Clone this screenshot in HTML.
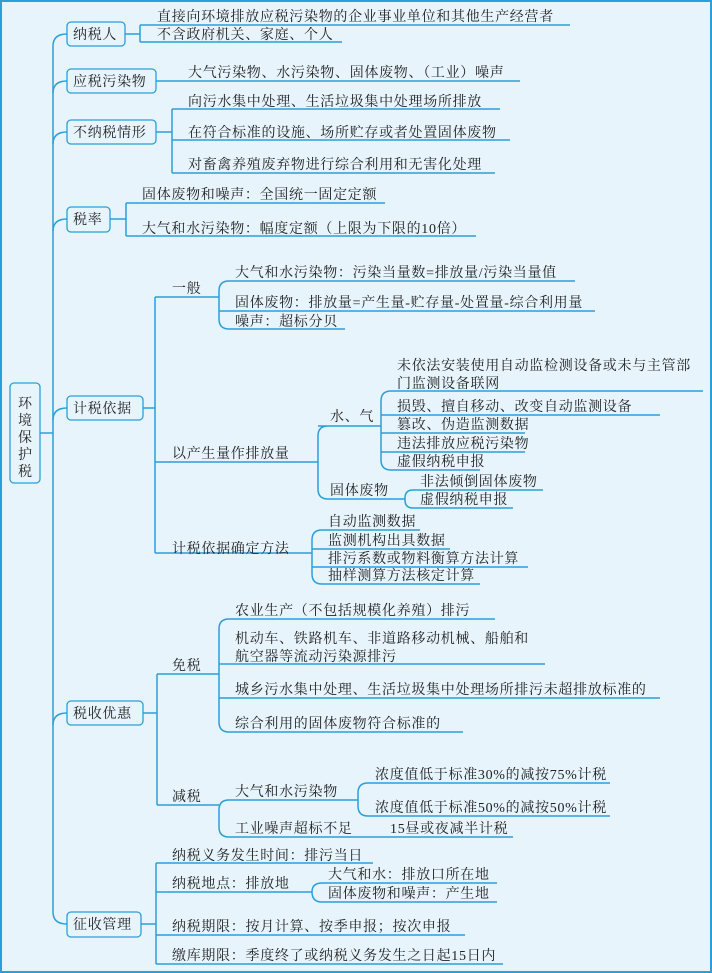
<!DOCTYPE html>
<html><head><meta charset="utf-8"><style>
html,body{margin:0;padding:0;background:#e7f4fc;}
svg{display:block}
text{font-family:"Liberation Serif","Noto Serif CJK SC",serif;font-size:14px;fill:#222;letter-spacing:0.7px}
.l{stroke:#2a9fdc;stroke-width:1.5;fill:none}
.b{stroke:#2a9fdc;stroke-width:1.3;fill:#e7f4fc}
</style></head><body>
<svg width="712" height="973" viewBox="0 0 712 973" xmlns="http://www.w3.org/2000/svg">
<rect x="1" y="1" width="710" height="971" fill="#e7f4fc" stroke="#2a9fdc" stroke-width="2"/>
<g class="l">
<path d="M67,34 Q53,34 53,46 L53,912 Q53,924 67,924"/>
<path d="M53,93 Q53,81 67,81"/><path d="M53,144 Q53,132 67,132"/><path d="M53,231 Q53,219 67,219"/>
<path d="M53,420 Q53,408 67,408"/><path d="M53,725 Q53,713 67,713"/>
<path d="M40,433 L53,433"/>
<path d="M125,34 L140,34 M140,25 L140,42 M140,25 L570,25 M140,42 L342,42"/>
<path d="M156,81 L520,81"/>
<path d="M156,132 L172,132 M172,109 L172,173 M172,109 L500,109 M172,140 L510,140 M172,173 L495,173"/>
<path d="M110,219 L126,219 M126,203 L126,236 M126,203 L385,203 M126,236 L476,236"/>
<path d="M143,408 L155,408 M155,297 L155,553 M155,297 L219,297 M155,462 L318,462 M155,553 L312,553"/>
<path d="M229,281 Q219,281 219,291 L219,319 Q219,329 229,329 L345,329 M229,281 L575,281 M219,311 L595,311"/>
<path d="M328,426 Q318,426 318,436 L318,489 Q318,499 328,499 L405,499 M318,426 L381,426"/>
<path d="M391,391 Q381,391 381,401 L381,460 Q381,470 391,470 L480,470 M391,391 L703,391 M381,415 L660,415 M381,433 L525,433 M381,452 L525,452"/>
<path d="M413,490 Q405,490 405,498 L405,500 Q405,508 413,508 L513,508 M413,490 L543,490"/>
<path d="M322,530 Q312,530 312,540 L312,574 Q312,584 322,584 L480,584 M322,530 L420,530 M312,549 L450,549 M312,567 L528,567"/>
<path d="M143,713 L157,713 M157,674 L157,805 M157,674 L219,674 M157,805 L219,805"/>
<path d="M229,619 Q219,619 219,629 L219,722 Q219,732 229,732 L463,732 M229,619 L495,619 M219,664 L545,664 M219,698 L660,698"/>
<path d="M229,800 Q219,800 219,810 L219,827 Q219,837 229,837 L513,837 M229,800 L358,800"/>
<path d="M368,783 Q358,783 358,793 L358,806 Q358,816 368,816 L610,816 M368,783 L610,783"/>
<path d="M141,924 L156,924 M156,863 L156,964 M156,863 L373,863 M156,892 L312,892 M156,935 L465,935 M156,964 L503,964"/>
<path d="M322,883 Q312,883 312,892 Q312,902 322,902 L497,902 M322,883 L497,883"/>
</g>
<rect class="b" x="10" y="383" width="30" height="100" rx="4"/>
<rect class="b" x="67" y="22" width="58" height="24" rx="4"/>
<rect class="b" x="67" y="69" width="89" height="24" rx="4"/>
<rect class="b" x="67" y="120" width="89" height="24" rx="4"/>
<rect class="b" x="67" y="207" width="43" height="25" rx="4"/>
<rect class="b" x="67" y="396" width="76" height="24" rx="4"/>
<rect class="b" x="67" y="701" width="76" height="24" rx="4"/>
<rect class="b" x="67" y="912" width="74" height="25" rx="4"/>
<g>
<text x="18" y="408">环</text><text x="18" y="425">境</text><text x="18" y="442">保</text><text x="18" y="459">护</text><text x="18" y="476">税</text>
<text x="73" y="39">纳税人</text>
<text x="73" y="86">应税污染物</text>
<text x="73" y="137">不纳税情形</text>
<text x="73" y="224">税率</text>
<text x="73" y="413">计税依据</text>
<text x="73" y="718">税收优惠</text>
<text x="73" y="929">征收管理</text>

<text x="157" y="21">直接向环境排放应税污染物的企业事业单位和其他生产经营者</text>
<text x="157" y="39">不含政府机关、家庭、个人</text>
<text x="188" y="77">大气污染物、水污染物、固体废物、（工业）噪声</text>
<text x="188" y="106">向污水集中处理、生活垃圾集中处理场所排放</text>
<text x="188" y="137">在符合标准的设施、场所贮存或者处置固体废物</text>
<text x="188" y="169">对畜禽养殖废弃物进行综合利用和无害化处理</text>
<text x="142" y="199">固体废物和噪声：全国统一固定定额</text>
<text x="142" y="233">大气和水污染物：幅度定额（上限为下限的10倍）</text>

<text x="172" y="293">一般</text>
<text x="235" y="277">大气和水污染物：污染当量数=排放量/污染当量值</text>
<text x="235" y="307">固体废物：排放量=产生量-贮存量-处置量-综合利用量</text>
<text x="235" y="326">噪声：超标分贝</text>
<text x="172" y="458">以产生量作排放量</text>
<text x="330" y="421">水、气</text>
<text x="330" y="495">固体废物</text>
<text x="397" y="370">未依法安装使用自动监检测设备或未与主管部</text>
<text x="397" y="388">门监测设备联网</text>
<text x="397" y="411">损毁、擅自移动、改变自动监测设备</text>
<text x="397" y="429">篡改、伪造监测数据</text>
<text x="397" y="448">违法排放应税污染物</text>
<text x="397" y="466">虚假纳税申报</text>
<text x="420" y="486">非法倾倒固体废物</text>
<text x="420" y="504">虚假纳税申报</text>
<text x="172" y="553">计税依据确定方法</text>
<text x="328" y="526">自动监测数据</text>
<text x="328" y="545">监测机构出具数据</text>
<text x="328" y="563">排污系数或物料衡算方法计算</text>
<text x="328" y="580">抽样测算方法核定计算</text>

<text x="172" y="670">免税</text>
<text x="235" y="615">农业生产（不包括规模化养殖）排污</text>
<text x="235" y="643">机动车、铁路机车、非道路移动机械、船舶和</text>
<text x="235" y="661">航空器等流动污染源排污</text>
<text x="235" y="694">城乡污水集中处理、生活垃圾集中处理场所排污未超排放标准的</text>
<text x="235" y="728">综合利用的固体废物符合标准的</text>
<text x="172" y="801">减税</text>
<text x="235" y="796">大气和水污染物</text>
<text x="235" y="833">工业噪声超标不足</text>
<text x="390" y="833">15昼或夜减半计税</text>
<text x="375" y="779">浓度值低于标准30%的减按75%计税</text>
<text x="375" y="812">浓度值低于标准50%的减按50%计税</text>

<text x="172" y="860">纳税义务发生时间：排污当日</text>
<text x="172" y="888">纳税地点：排放地</text>
<text x="328" y="879">大气和水：排放口所在地</text>
<text x="328" y="898">固体废物和噪声：产生地</text>
<text x="172" y="931">纳税期限：按月计算、按季申报；按次申报</text>
<text x="172" y="960">缴库期限：季度终了或纳税义务发生之日起15日内</text>
</g>
</svg>
</body></html>
